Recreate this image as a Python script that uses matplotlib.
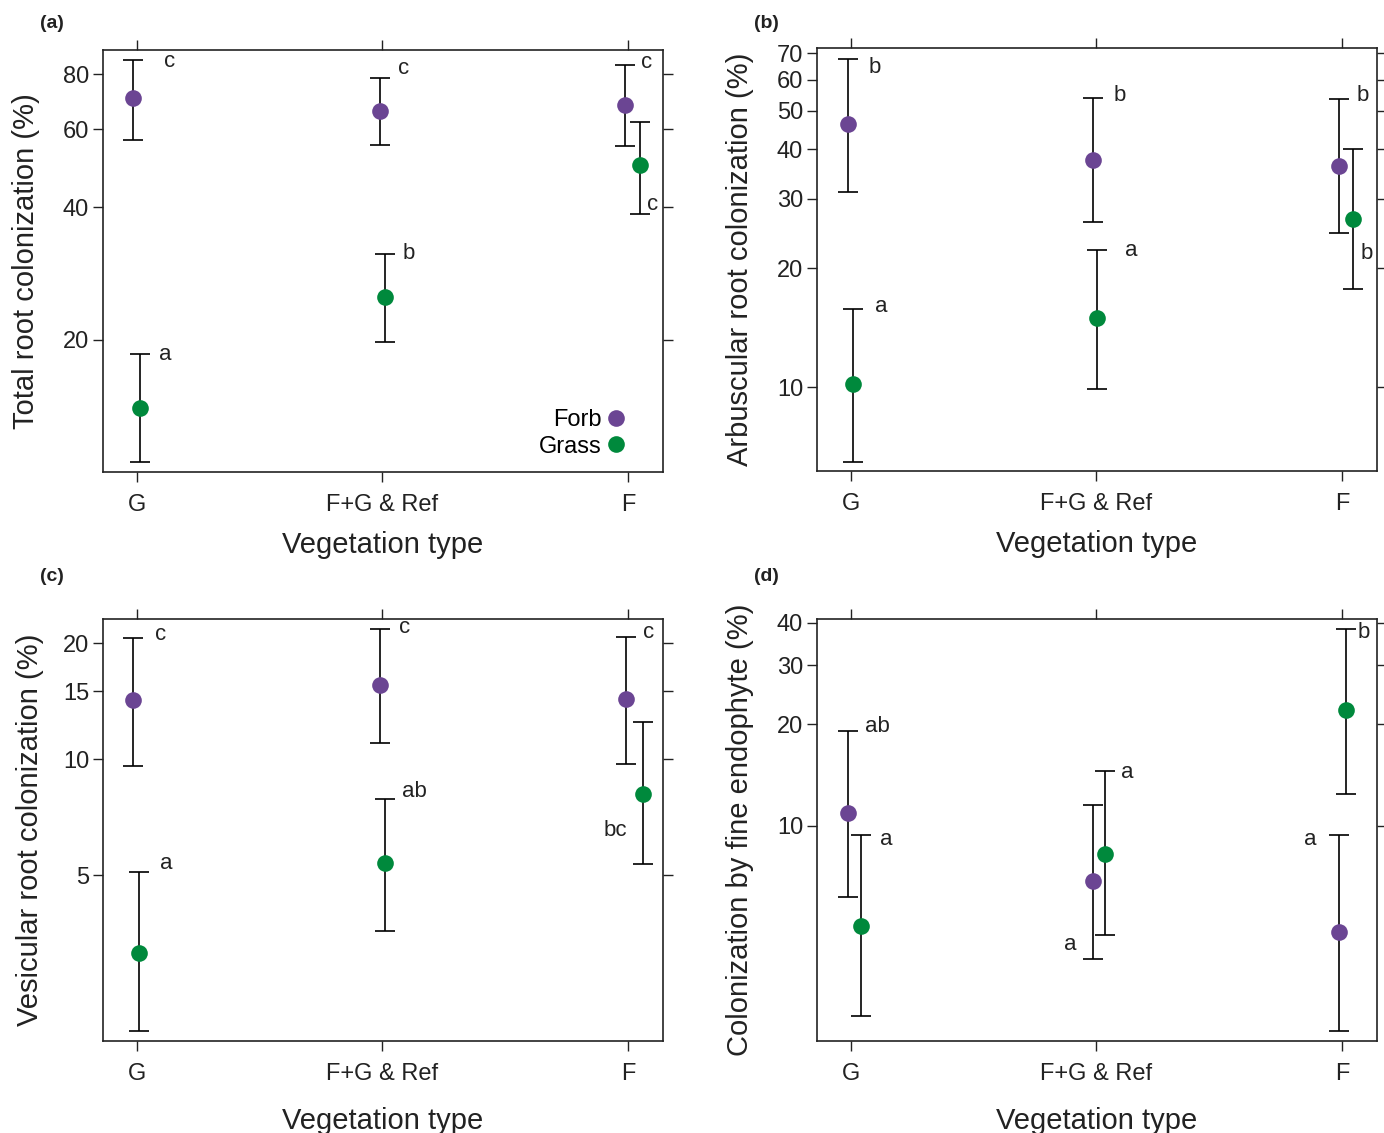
import matplotlib
matplotlib.use("Agg")
import matplotlib.pyplot as plt
from matplotlib.ticker import NullLocator

plt.rcParams['font.family'] = ['Liberation Sans', 'DejaVu Sans']

# categories on the x axis
categories = ["G", "F+G & Ref", "F"]

# (a) total root colonization (%): mean, upper, lower
a_forb = [70.6, 66.0, 68.1]
a_forb_hi = [86.1, 78.3, 83.8]
a_forb_lo = [56.7, 55.3, 54.9]
a_grass = [14.0, 25.0, 49.8]
a_grass_hi = [18.6, 31.3, 62.3]
a_grass_lo = [10.6, 19.8, 38.6]

# (b) arbuscular root colonization (%)
b_forb = [46.3, 37.5, 36.2]
b_forb_hi = [67.6, 53.8, 53.5]
b_forb_lo = [31.1, 26.1, 24.5]
b_grass = [10.2, 14.95, 26.6]
b_grass_hi = [15.8, 22.2, 40.0]
b_grass_lo = [6.46, 9.9, 17.7]

# (c) vesicular root colonization (%)
c_forb = [14.2, 15.6, 14.3]
c_forb_hi = [20.6, 21.8, 20.7]
c_forb_lo = [9.6, 11.0, 9.7]
c_grass = [3.14, 5.37, 8.12]
c_grass_hi = [5.09, 7.88, 12.5]
c_grass_lo = [1.97, 3.58, 5.34]

# (d) colonization by fine endophyte (%)
d_forb = [10.9, 6.87, 4.85]
d_forb_hi = [19.1, 11.5, 9.4]
d_forb_lo = [6.16, 4.03, 2.46]
d_grass = [5.05, 8.26, 22.1]
d_grass_hi = [9.4, 14.5, 38.4]
d_grass_lo = [2.73, 4.75, 12.4]

# significance letters
a_letters_forb = ["c", "c", "c"]
a_letters_grass = ["a", "b", "c"]
b_letters_forb = ["b", "b", "b"]
b_letters_grass = ["a", "a", "b"]
c_letters_forb = ["c", "c", "c"]
c_letters_grass = ["a", "ab", "bc"]
d_letters_forb = ["ab", "a", "a"]
d_letters_grass = ["a", "a", "b"]

ylabels = ["Total root colonization (%)", "Arbuscular root colonization (%)",
           "Vesicular root colonization (%)", "Colonization by fine endophyte (%)"]
yticks = [[20, 40, 60, 80], [10, 20, 30, 40, 50, 60, 70], [5, 10, 15, 20], [10, 20, 30, 40]]
ylims = [(10.05, 90.7), (6.13, 72.1), (1.855, 23.1), (2.30, 41.1)]

purple = "#6B4593"
green = "#00893C"
dark = "#222222"

# layout: dodge (x offset) and letter placement (anchor, dx px, dy px)
panels = [
    dict(tag="(a)", pos=[0.0744, 0.5834, 0.4046, 0.3725],
         forb=(a_forb, a_forb_hi, a_forb_lo, a_letters_forb),
         grass=(a_grass, a_grass_hi, a_grass_lo, a_letters_grass),
         dodge_f=[-4, -2, -3], dodge_g=[3, 3, 12],
         lab_f=[("hi", 37, -2), ("hi", 23, 10), ("hi", 22, 3)],
         lab_g=[("hi", 25, -1), ("hi", 23, 1), ("lo", 13, 9)],
         ylc=-0.112, xlc=-0.140, tagy=1.062),
    dict(tag="(b)", pos=[0.5903, 0.5843, 0.4046, 0.3733],
         forb=(b_forb, b_forb_hi, b_forb_lo, b_letters_forb),
         grass=(b_grass, b_grass_hi, b_grass_lo, b_letters_grass),
         dodge_f=[-3, -3, -3], dodge_g=[2, 1, 11],
         lab_f=[("hi", 27, -8), ("hi", 26, 3), ("hi", 24, 4)],
         lab_g=[("hi", 28, 2), ("hi", 34, 0), ("mid", 14, -34)],
         ylc=-0.112, xlc=-0.140, tagy=1.057),
    dict(tag="(c)", pos=[0.0744, 0.0812, 0.4046, 0.3725],
         forb=(c_forb, c_forb_hi, c_forb_lo, c_letters_forb),
         grass=(c_grass, c_grass_hi, c_grass_lo, c_letters_grass),
         dodge_f=[-4, -2, -2], dodge_g=[2, 3, 15],
         lab_f=[("hi", 28, 4), ("hi", 24, 1), ("hi", 23, 5)],
         lab_g=[("hi", 27, 9), ("hi", 29, 7), ("mid", -27, -37)],
         ylc=-0.106, xlc=-0.156, tagy=1.10),
    dict(tag="(d)", pos=[0.5903, 0.0812, 0.4046, 0.3725],
         forb=(d_forb, d_forb_hi, d_forb_lo, d_letters_forb),
         grass=(d_grass, d_grass_hi, d_grass_lo, d_letters_grass),
         dodge_f=[-3, -3, -3], dodge_g=[10, 9, 4],
         lab_f=[("hi", 30, 5), ("lo", -23, 14), ("hi", -29, -5)],
         lab_g=[("hi", 25, -5), ("hi", 22, -1), ("hi", 18, -4)],
         ylc=-0.112, xlc=-0.156, tagy=1.10),
]

fig = plt.figure(figsize=(13.84, 11.33), dpi=100)
px_per_cat = 245.5
xs = [1, 2, 3]

for i, p in enumerate(panels):
    ax = fig.add_axes(p["pos"])
    for key, col, dodge, labs in [("forb", purple, p["dodge_f"], p["lab_f"]),
                                  ("grass", green, p["dodge_g"], p["lab_g"])]:
        mean, hi, lo, letters = p[key]
        x = [xx + d / px_per_cat for xx, d in zip(xs, dodge)]
        err = [[m - l for m, l in zip(mean, lo)], [h - m for h, m in zip(hi, mean)]]
        ax.errorbar(x, mean, yerr=err, fmt="none", ecolor="black", elinewidth=1.2,
                    capsize=7, capthick=1.2, zorder=2)
        ax.plot(x, mean, "o", color=col, markersize=12, markeredgewidth=0,
                zorder=3, label=key.capitalize())
        for j in range(3):
            anchor, dx, dy = labs[j]
            yv = {"hi": hi[j], "lo": lo[j], "mid": mean[j]}[anchor]
            ax.annotate(letters[j], xy=(x[j], yv), xytext=(dx * 0.72, dy * 0.72),
                        textcoords="offset points", ha="center", va="center",
                        fontsize=16, color=dark)

    ax.set_yscale("log")
    ax.set_ylim(*ylims[i])
    ax.set_yticks(yticks[i])
    ax.set_yticklabels([str(t) for t in yticks[i]])
    ax.yaxis.set_minor_locator(NullLocator())
    ax.set_xlim(0.862, 3.143)
    ax.set_xticks(xs)
    ax.set_xticklabels(categories)
    ax.tick_params(axis="both", which="both", direction="out", length=7, width=1,
                   color=dark, labelsize=17, labelcolor=dark)
    ax.tick_params(axis="y", right=True, labelright=False, pad=3)
    ax.tick_params(axis="x", top=True, labeltop=False, pad=9)
    for s in ax.spines.values():
        s.set_color(dark)
        s.set_linewidth(1.2)
    ax.set_ylabel(ylabels[i], fontsize=21, color=dark)
    ax.set_xlabel("Vegetation type", fontsize=21, color=dark)
    ax.yaxis.set_label_coords(p["ylc"], 0.5)
    ax.xaxis.set_label_coords(0.5, p["xlc"])
    ax.text(-0.113, p["tagy"], p["tag"], transform=ax.transAxes, fontsize=14,
            fontweight="bold", color=dark, ha="left", va="center")
    if i == 0:
        ax.legend(loc="lower right", markerfirst=False, frameon=False, fontsize=17,
                  handlelength=0.8, handletextpad=0.2, labelspacing=0.2,
                  borderaxespad=0.6, bbox_to_anchor=(0.975, -0.022))

fig.savefig("out.png", dpi=100)
